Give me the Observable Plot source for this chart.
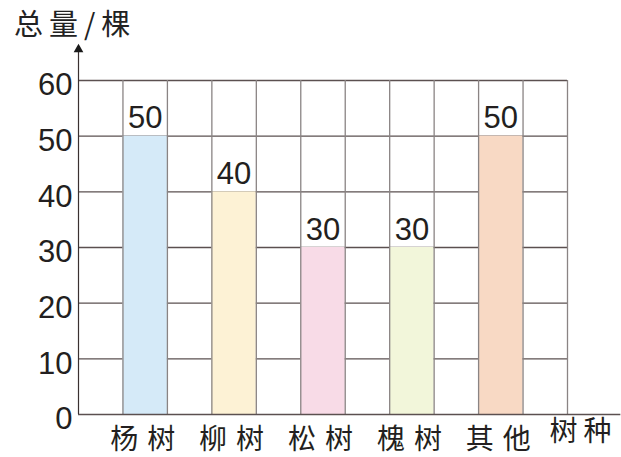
<!DOCTYPE html>
<html>
<head>
<meta charset="utf-8">
<script src="https://cdn.jsdelivr.net/npm/d3@7"></script>
<script src="https://cdn.jsdelivr.net/npm/@observablehq/plot@0.6"></script>
<style>
  body { margin: 0; background: #fff; }
  #title { height: 45px; position: relative; font-family: "Noto Sans CJK SC", sans-serif; font-size: 29px; color: #222; }
  #title span { position: absolute; left: 14px; top: 1px; letter-spacing: 6px; }
</style>
</head>
<body>
<div id="title"><span>总量/棵</span></div>
<div id="chart"></div>
<script>
const categories = ["杨树", "柳树", "松树", "槐树", "其他"];
const values = [50, 40, 30, 30, 50];
const colors = ["#d5eaf8", "#fdf2d5", "#f8dbe7", "#f2f6da", "#f8d9c4"];
const yTicks = [0, 10, 20, 30, 40, 50, 60];
const xTitle = "树种";
const cellCount = 11;

const data = categories.map((c, i) => ({cat: c, value: values[i], color: colors[i], x1: 2 * i + 1, x2: 2 * i + 2}));

const numFont = "Liberation Sans, Arial, sans-serif";
const cjkFont = "Noto Sans CJK SC, sans-serif";

const chart = Plot.plot({
  width: 621,
  height: 412,
  marginLeft: 78,
  marginRight: 54,
  marginTop: 35,
  marginBottom: 43,
  style: {overflow: "visible"},
  x: {domain: [0, cellCount], axis: null},
  y: {domain: [0, 60], axis: null},
  marks: [
    Plot.ruleY(yTicks.filter(d => d > 0), {x1: 0, x2: cellCount, stroke: "#5b5050", strokeWidth: 1.3}),
    Plot.rectY(data, {x1: "x1", x2: "x2", y1: 0, y2: "value", fill: "color", inset: 0}),
    Plot.ruleX(d3.range(1, cellCount + 1), {y1: 0, y2: 60, stroke: "#8a8484", strokeWidth: 1.3}),
    Plot.ruleY([0], {x1: 0, x2: cellCount + 1.2, stroke: "#5b5050", strokeWidth: 1.3}),
    Plot.ruleX([0], {y1: 0, y2: 65.5, stroke: "#3a3030", strokeWidth: 1.2}),
    Plot.dot([0], {x: 0, y: 65.6, symbol: "triangle", r: 3.6, fill: "#1a1a1a", stroke: "none"}),
    Plot.text(yTicks, {x: 0, y: d => d, text: d => String(d), textAnchor: "end", dx: -6, dy: 5, fontSize: 31, fontFamily: numFont, fill: "#231f20"}),
    Plot.text(data, {x: d => (d.x1 + d.x2) / 2, y: 0, text: "cat", dy: 26, dx: 2, fontSize: 28, fontFamily: cjkFont, fill: "#231f20"}),
    Plot.text(data, {x: d => (d.x1 + d.x2) / 2, y: "value", text: d => String(d.value), lineAnchor: "bottom", dy: -8, fontSize: 31, fontFamily: numFont, fill: "#231f20"}),
    Plot.text([xTitle], {frameAnchor: "bottom-right", text: d => d, dx: 16, dy: 26, textAnchor: "middle", fontSize: 28, fontFamily: cjkFont, fill: "#231f20"})
  ]
});
const spaced = new Set(categories);
d3.select(chart).selectAll("text")
  .filter(function() { return spaced.has(this.textContent); })
  .style("letter-spacing", "9px");
d3.select(chart).selectAll("text")
  .filter(function() { return this.textContent === xTitle; })
  .style("letter-spacing", "6px");
document.getElementById("chart").appendChild(chart);
</script>
</body>
</html>
